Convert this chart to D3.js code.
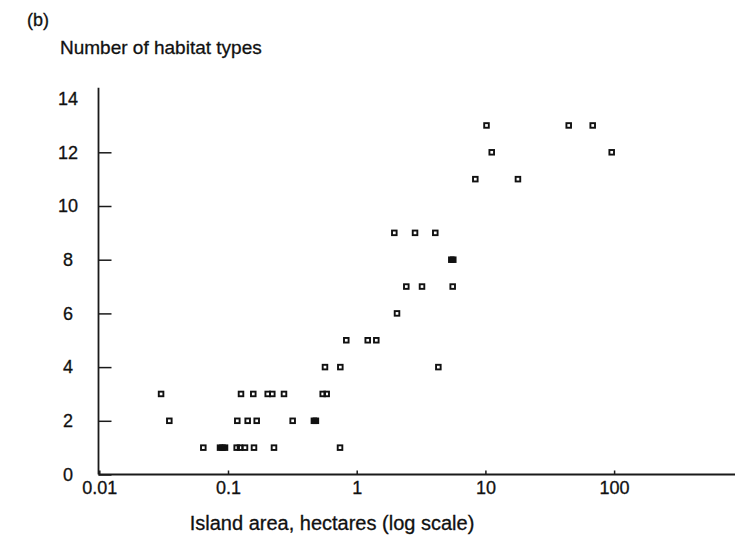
<!DOCTYPE html>
<html>
<head>
<meta charset="utf-8">
<script src="https://cdn.jsdelivr.net/npm/d3@7/dist/d3.min.js"></script>
<style>
  html, body { margin: 0; padding: 0; background: #fff; }
  svg text { font-family: "Liberation Sans", Arial, Helvetica, sans-serif; fill: #111; stroke: #111; stroke-width: 0.3px; }
</style>
</head>
<body>
<svg id="chart" width="735" height="541"></svg>
<script>
// Island area (hectares) and number of habitat types found on each island
const areaHa = [
  0.0643, 0.0867, 0.0906, 0.0948, 0.1168, 0.1239, 0.1355, 0.1592, 0.2277, 0.742,
  0.035, 0.1181, 0.1422, 0.1671, 0.318, 0.4650, 0.4819,
  0.0302, 0.1262, 0.1572, 0.2035, 0.2209, 0.2723, 0.5443, 0.5846,
  0.567, 0.746, 4.31,
  0.830, 1.218, 1.42,
  2.057,
  2.429, 3.217, 5.57,
  5.434, 5.63,
  1.96, 2.84, 4.08,
  8.35, 17.9,
  11.2, 95.8,
  10.2, 44.4, 68.2
];
const habitatTypes = [
  1, 1, 1, 1, 1, 1, 1, 1, 1, 1,
  2, 2, 2, 2, 2, 2, 2,
  3, 3, 3, 3, 3, 3, 3, 3,
  4, 4, 4,
  5, 5, 5,
  6,
  7, 7, 7,
  8, 8,
  9, 9, 9,
  11, 11,
  12, 12,
  13, 13, 13
];
const xTickValues = [0.01, 0.1, 1, 10, 100];
const xTickLabels = ["0.01", "0.1", "1", "10", "100"];
const yTickValues = [0, 2, 4, 6, 8, 10, 12, 14];

const svg = d3.select("#chart");
svg.append("rect").attr("width", 735).attr("height", 541).attr("fill", "#fff");

const axisX = 98.5, y0 = 474.5;
const decade = 128.7;
const x = d3.scaleLog().domain([0.01, 1000]).range([99.3, 99.3 + 5 * decade]);
const y = d3.scaleLinear().domain([0, 14.4]).range([y0, y0 - 14.4 * 26.85]);

const ink = "#1a1a1a";

// x axis (ticks point inward)
const gx = svg.append("g")
  .attr("transform", `translate(0,${y0})`)
  .call(d3.axisBottom(x)
    .tickValues(xTickValues)
    .tickFormat((d, i) => xTickLabels[i])
    .tickSizeInner(-4).tickSizeOuter(0).tickPadding(7));
gx.select(".domain").remove();
gx.selectAll(".tick line").attr("stroke", ink).attr("stroke-width", 1.5);
gx.selectAll(".tick text").attr("font-size", 18).attr("fill", "#111");

// y axis (ticks point inward, labels centred in a column)
const gy = svg.append("g")
  .attr("transform", `translate(${axisX},0)`)
  .call(d3.axisLeft(y)
    .tickValues(yTickValues)
    .tickSizeInner(-13).tickSizeOuter(0).tickPadding(0));
gy.select(".domain").remove();
gy.selectAll(".tick line")
  .attr("stroke", ink).attr("stroke-width", 1.5)
  .attr("display", d => d === 14 ? "none" : null);
gy.selectAll(".tick text")
  .attr("font-size", 18).attr("fill", "#111")
  .attr("text-anchor", "middle").attr("x", -30.5);

// axis lines
svg.append("line")
  .attr("x1", axisX).attr("x2", axisX)
  .attr("y1", y(14.4)).attr("y2", y0)
  .attr("stroke", ink).attr("stroke-width", 1.8);
svg.append("line")
  .attr("x1", axisX).attr("x2", 735)
  .attr("y1", y0).attr("y2", y0)
  .attr("stroke", ink).attr("stroke-width", 1.8);

// data points: small open squares; islands that overlap on the plot
// (same habitat count, almost the same area) are drawn as solid blocks
const pts = areaHa.map((a, i) => ({ a, n: habitatTypes[i], px: x(a), py: y(habitatTypes[i]) }));
pts.forEach(p => {
  p.solid = pts.some(q => q !== p && q.n === p.n && Math.abs(q.px - p.px) < 2.7);
});
const s = 4.6;
svg.append("g").selectAll("rect")
  .data(pts)
  .join("rect")
  .attr("x", d => d.px - s / 2)
  .attr("y", d => d.py - s / 2)
  .attr("width", s).attr("height", s)
  .attr("fill", d => d.solid ? "#111" : "none")
  .attr("stroke", "#111")
  .attr("stroke-width", 1.9);

// labels
svg.append("text").attr("x", 27).attr("y", 26)
  .attr("font-size", 18).text("(b)");
svg.append("text").attr("x", 60).attr("y", 53.5)
  .attr("font-size", 19).text("Number of habitat types");
svg.append("text").attr("x", 332).attr("y", 530)
  .attr("font-size", 20).attr("text-anchor", "middle")
  .text("Island area, hectares (log scale)");
</script>
</body>
</html>
